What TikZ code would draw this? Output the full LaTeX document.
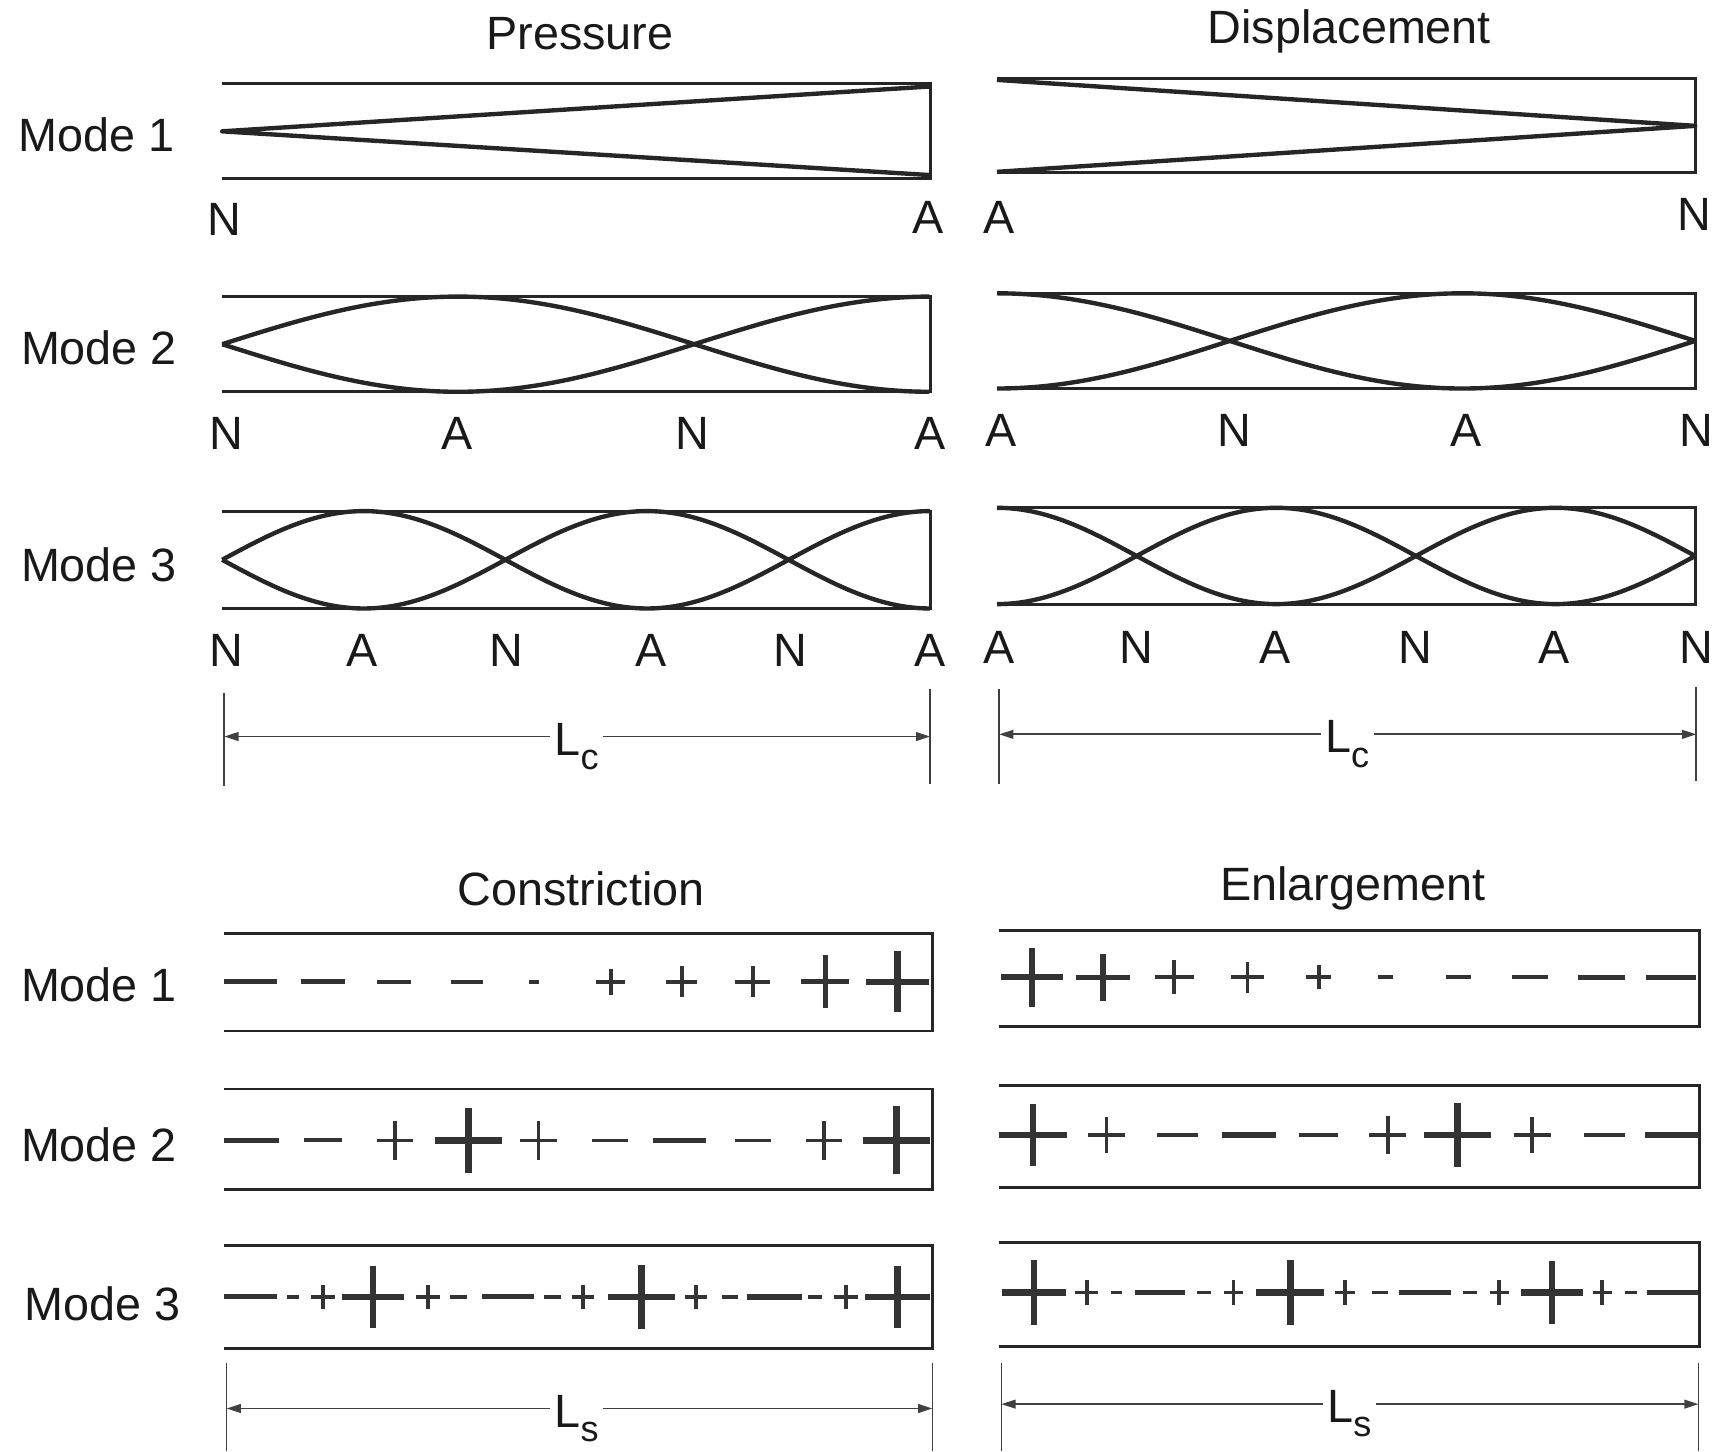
\documentclass[tikz,border=0pt]{standalone}
\usepackage{fontspec}
\setmainfont{Liberation Sans}
\usetikzlibrary{arrows.meta}
\newcommand\mysignrow[2]{%
  \foreach \x/\w/\h in {#2}{%
    \pgfmathsetmacro\lw{min(6,max(3.4,\w/10))}%
    \draw[signline, line width=\lw pt] ({\x-\w/2},#1) -- ({\x+\w/2},#1);
    \ifnum\h>0 \draw[signline, line width=\lw pt] (\x,{#1-\h/2}) -- (\x,{#1+\h/2}); \fi
  }}
\begin{document}
\begin{tikzpicture}[x=1pt,y=-1pt,
  lbl/.style={font=\fontsize{42.7}{48}\selectfont, inner sep=0pt, text=black!90},
  boxline/.style={line width=2.6pt, draw=black!85},
  curve/.style={line width=4pt, draw=black!85, line join=round},
  dimline/.style={line width=1.6pt, draw=black!75},
  dimarrow/.style={line width=1.6pt, draw=black!75, -{Triangle[length=13pt,width=8pt]}},
  signline/.style={draw=black!80, line cap=butt},
  dimlbl/.style={font=\fontsize{42.7}{48}\selectfont, inner sep=4pt, text=black!90},
]
\useasboundingbox (0,0) rectangle (1568,1326);

% ---------- titles ----------
\node[lbl, anchor=base] (tP) at (530,45) {Pressure};
\node[lbl, anchor=base] (tD) at (1233,40) {Displacement};
\node[lbl, anchor=base] (tC) at (531,827) {Constriction};
\node[lbl, anchor=base] (tE) at (1236,823) {Enlargement};

% ---------- mode labels ----------
\node[lbl, anchor=base west] (m1) at (17,138) {Mode 1};
\node[lbl, anchor=base west] (m2) at (19,333) {Mode 2};
\node[lbl, anchor=base west] (m3) at (19,531) {Mode 3};
\node[lbl, anchor=base west] (b1) at (19,915) {Mode 1};
\node[lbl, anchor=base west] (b2) at (19,1061) {Mode 2};
\node[lbl, anchor=base west] (b3) at (22,1207) {Mode 3};

% ---------- upper boxes ----------
\draw[boxline] (203,76) -- (850,76) -- (850,163) -- (203,163);
\draw[boxline] (911,72) -- (1549,72) -- (1549,158) -- (911,158);
\draw[boxline] (203,271) -- (850,271) -- (850,358) -- (203,358);
\draw[boxline] (911,268) -- (1549,268) -- (1549,355) -- (911,355);
\draw[boxline] (203,467) -- (850,467) -- (850,556) -- (203,556);
\draw[boxline] (911,464) -- (1549,464) -- (1549,552) -- (911,552);

% mode 1 curves
\draw[curve] (850,79) -- (203,120) -- (850,160);
\draw[curve] (911,73) -- (1549,115) -- (911,157);
% mode 2 curves
\draw[curve] plot[domain=0:1, samples=120, variable=\t] ({203+647*\t},{314.5-43.5*sin(270*\t)});
\draw[curve] plot[domain=0:1, samples=120, variable=\t] ({203+647*\t},{314.5+43.5*sin(270*\t)});
\draw[curve] plot[domain=0:1, samples=120, variable=\t] ({911+638*\t},{311.5-43.5*cos(270*\t)});
\draw[curve] plot[domain=0:1, samples=120, variable=\t] ({911+638*\t},{311.5+43.5*cos(270*\t)});
% mode 3 curves
\draw[curve] plot[domain=0:1, samples=160, variable=\t] ({203+647*\t},{511.5-44.5*sin(450*\t)});
\draw[curve] plot[domain=0:1, samples=160, variable=\t] ({203+647*\t},{511.5+44.5*sin(450*\t)});
\draw[curve] plot[domain=0:1, samples=160, variable=\t] ({911+638*\t},{508-44*cos(450*\t)});
\draw[curve] plot[domain=0:1, samples=160, variable=\t] ({911+638*\t},{508+44*cos(450*\t)});

% N / A labels
\node[lbl, anchor=base] (n11) at (205,215) {N};
\node[lbl, anchor=base] (a11) at (848,213) {A};
\node[lbl, anchor=base] (a12) at (913,213) {A};
\node[lbl, anchor=base] (n12) at (1548,211) {N};

\foreach \x/\s [count=\i] in {207/N,418/A,633/N,850/A}
  \node[lbl, anchor=base] (l2\i) at (\x,411) {\s};
\foreach \x/\s [count=\i] in {915/A,1128/N,1340/A,1550/N}
  \node[lbl, anchor=base] (r2\i) at (\x,408) {\s};
\foreach \x/\s [count=\i] in {207/N,331/A,463/N,595/A,722/N,850/A}
  \node[lbl, anchor=base] (l3\i) at (\x,609) {\s};
\foreach \x/\s [count=\i] in {913/A,1038/N,1165/A,1293/N,1420/A,1550/N}
  \node[lbl, anchor=base] (r3\i) at (\x,606) {\s};

% ---------- Lc dimensions ----------
\coordinate (lcA1) at (205,633); \coordinate (lcA2) at (205,718);
\coordinate (lcB1) at (850,630); \coordinate (lcB2) at (850,716);
\draw[dimline] (lcA1) -- (lcA2);
\draw[dimline] (lcB1) -- (lcB2);
\coordinate (lcL) at (205,673); \coordinate (lcR) at (850,673);
\node[dimlbl, anchor=base] (lc) at (527,690) {L\raisebox{-13pt}{\fontsize{33}{33}\selectfont c}};
\draw[dimarrow] (lc.west |- lcL) -- (lcL);
\draw[dimarrow] (lc.east |- lcR) -- (lcR);

\coordinate (rcA1) at (913,630); \coordinate (rcA2) at (913,716);
\coordinate (rcB1) at (1550,628); \coordinate (rcB2) at (1550,714);
\draw[dimline] (rcA1) -- (rcA2);
\draw[dimline] (rcB1) -- (rcB2);
\coordinate (rcL) at (913,671); \coordinate (rcR) at (1550,671);
\node[dimlbl, anchor=base] (rc) at (1231,688) {L\raisebox{-13pt}{\fontsize{33}{33}\selectfont c}};
\draw[dimarrow] (rc.west |- rcL) -- (rcL);
\draw[dimarrow] (rc.east |- rcR) -- (rcR);

% ---------- lower boxes ----------
\draw[boxline] (205,853) -- (852,853) -- (852,942) -- (205,942);
\draw[boxline] (913,850) -- (1553,850) -- (1553,938) -- (913,938);
\draw[boxline] (205,995) -- (852,995) -- (852,1087) -- (205,1087);
\draw[boxline] (913,992) -- (1553,992) -- (1553,1085) -- (913,1085);
\draw[boxline] (205,1138) -- (852,1138) -- (852,1232) -- (205,1232);
\draw[boxline] (913,1135) -- (1553,1135) -- (1553,1230) -- (913,1230);

% signs: x/width/height (height 0 = minus)
\mysignrow{897}{229/48/0, 295/40/0, 360/31/0, 427/29/0, 488/9/0,
  558/26/24, 623/28/28, 688/32/28, 754/44/48, 820/58/56}
\mysignrow{893}{943/57/54, 1008/49/43, 1073/36/31, 1140/30/28, 1205/23/22,
  1266/13/0, 1333/23/0, 1398/33/0, 1463/43/0, 1527/46/0}
\mysignrow{1042}{230/50/0, 295/35/0, 361/33/35, 428/61/60, 492/33/35,
  557/33/0, 621/48/0, 688/33/0, 753/33/35, 819/61/62}
\mysignrow{1037}{944/62/57, 1011/34/33, 1076/37/0, 1141/49/0, 1205/36/0,
  1268/34/34, 1332/61/59, 1400/34/33, 1466/37/0, 1528/49/0}
\mysignrow{1185}{229/48/0, 268/11/0, 295/22/22, 341/57/57, 391/22/22, 419/15/0,
  464/48/0, 505/15/0, 533/20/22, 586/61/58, 636/20/22, 667/15/0,
  708/50/0, 745/13/0, 773/22/22, 820/60/56}
\mysignrow{1181}{945/59/59, 993/21/22, 1020/10/0, 1060/45/0, 1100/13/0,
  1127/17/22, 1179/62/60, 1229/19/22, 1261/15/0, 1302/48/0, 1343/13/0,
  1370/17/22, 1418/57/57, 1464/17/22, 1490/11/0, 1528/47/0}

% ---------- Ls dimensions ----------
\coordinate (lsA1) at (207,1245); \coordinate (lsA2) at (207,1326);
\coordinate (lsB1) at (852,1245); \coordinate (lsB2) at (852,1326);
\draw[dimline] (lsA1) -- (lsA2);
\draw[dimline] (lsB1) -- (lsB2);
\coordinate (lsL) at (207,1287); \coordinate (lsR) at (852,1287);
\node[dimlbl, anchor=base] (ls) at (527,1304) {L\raisebox{-13pt}{\fontsize{33}{33}\selectfont s}};
\draw[dimarrow] (ls.west |- lsL) -- (lsL);
\draw[dimarrow] (ls.east |- lsR) -- (lsR);

\coordinate (rsA1) at (915,1245); \coordinate (rsA2) at (915,1326);
\coordinate (rsB1) at (1552,1245); \coordinate (rsB2) at (1552,1326);
\draw[dimline] (rsA1) -- (rsA2);
\draw[dimline] (rsB1) -- (rsB2);
\coordinate (rsL) at (915,1283); \coordinate (rsR) at (1552,1283);
\node[dimlbl, anchor=base] (rs) at (1233,1300) {L\raisebox{-13pt}{\fontsize{33}{33}\selectfont s}};
\draw[dimarrow] (rs.west |- rsL) -- (rsL);
\draw[dimarrow] (rs.east |- rsR) -- (rsR);
\end{tikzpicture}
\end{document}
